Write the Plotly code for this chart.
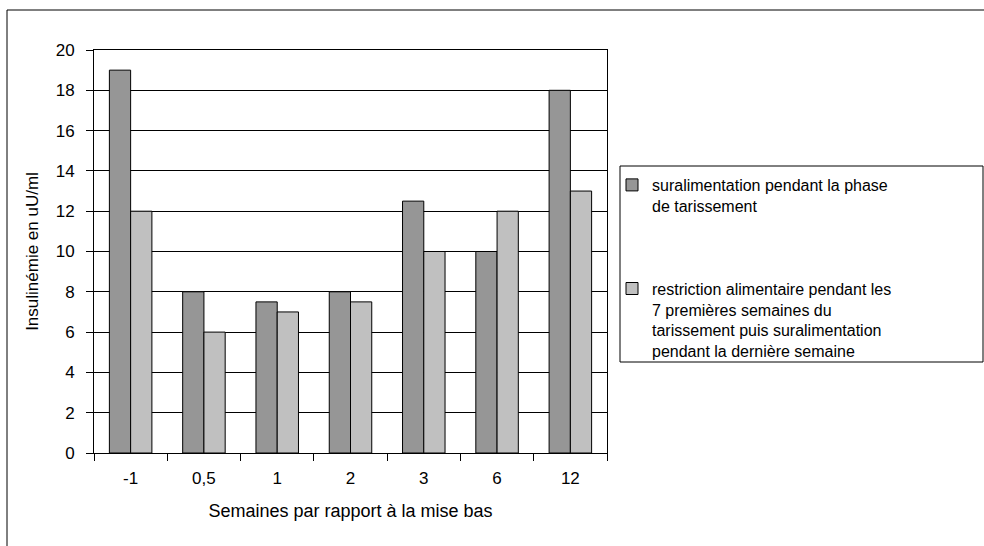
import plotly.graph_objects as go

categories = ["-1", "0,5", "1", "2", "3", "6", "12"]
serie_surali = [19, 8, 7.5, 8, 12.5, 10, 18]
serie_restriction = [12, 6, 7, 7.5, 10, 12, 13]
name_surali = "suralimentation pendant la phase<br>de tarissement"
name_restriction = ("restriction alimentaire pendant les<br>7 premières semaines du<br>"
                    "tarissement puis suralimentation<br>pendant la dernière semaine")
y_ticks = list(range(0, 21, 2))

W, H = 984, 546
L, R, T, B = 94, 607, 50, 453
FONT = "Liberation Sans, Arial, sans-serif"

def px_x(x):
    return (x - L) / (R - L)

def px_y(y):
    return (B - y) / (B - T)

fig = go.Figure()
fig.add_trace(go.Bar(x=categories, y=serie_surali, name=name_surali,
                     marker=dict(color="#969696", line=dict(color="black", width=1)),
                     legendgroup="a"))
fig.add_trace(go.Bar(x=categories, y=serie_restriction, name=name_restriction,
                     marker=dict(color="#c0c0c0", line=dict(color="black", width=1)),
                     legendgroup="b"))

fig.update_layout(
    width=W, height=H,
    margin=dict(l=L, r=W - R, t=T, b=H - B, pad=0),
    paper_bgcolor="white", plot_bgcolor="white",
    font=dict(family=FONT, color="black", size=17),
    barmode="group", bargap=0.42, bargroupgap=0,
    showlegend=True,
    legend=dict(x=px_x(612), y=px_y(168), xanchor="left", yanchor="top",
                bgcolor="rgba(0,0,0,0)", borderwidth=0,
                font=dict(family=FONT, size=16, color="black"),
                valign="top", tracegroupgap=59, traceorder="grouped"),
    xaxis=dict(
        type="category", showline=True, linecolor="black", linewidth=1, mirror=True,
        ticks="outside", tickson="boundaries", ticklen=7, tickcolor="black",
        ticklabelstandoff=10, showgrid=False,
        tickfont=dict(size=17),
        title=dict(text="Semaines par rapport à la mise bas", font=dict(size=18), standoff=16),
    ),
    yaxis=dict(
        range=[0, 20], tickvals=y_ticks, showline=True, linecolor="black", linewidth=1,
        mirror=True, ticks="outside", ticklen=7, tickcolor="black",
        ticklabelstandoff=8, showgrid=True, gridcolor="black", gridwidth=1,
        zeroline=False, tickfont=dict(size=17),
        title=dict(text="Insulinémie en uU/ml", font=dict(size=17), standoff=12),
    ),
    shapes=[
        dict(type="rect", xref="paper", yref="paper",
             x0=px_x(7), x1=px_x(1100), y0=px_y(600), y1=px_y(10),
             line=dict(color="black", width=1), fillcolor="rgba(0,0,0,0)", layer="below"),
        dict(type="rect", xref="paper", yref="paper",
             x0=px_x(620), x1=px_x(983), y0=px_y(362), y1=px_y(166),
             line=dict(color="black", width=1), fillcolor="rgba(0,0,0,0)"),
    ],
)

fig.write_html("out.html", config={"displayModeBar": False},
               post_script="document.body.style.margin='0';")
